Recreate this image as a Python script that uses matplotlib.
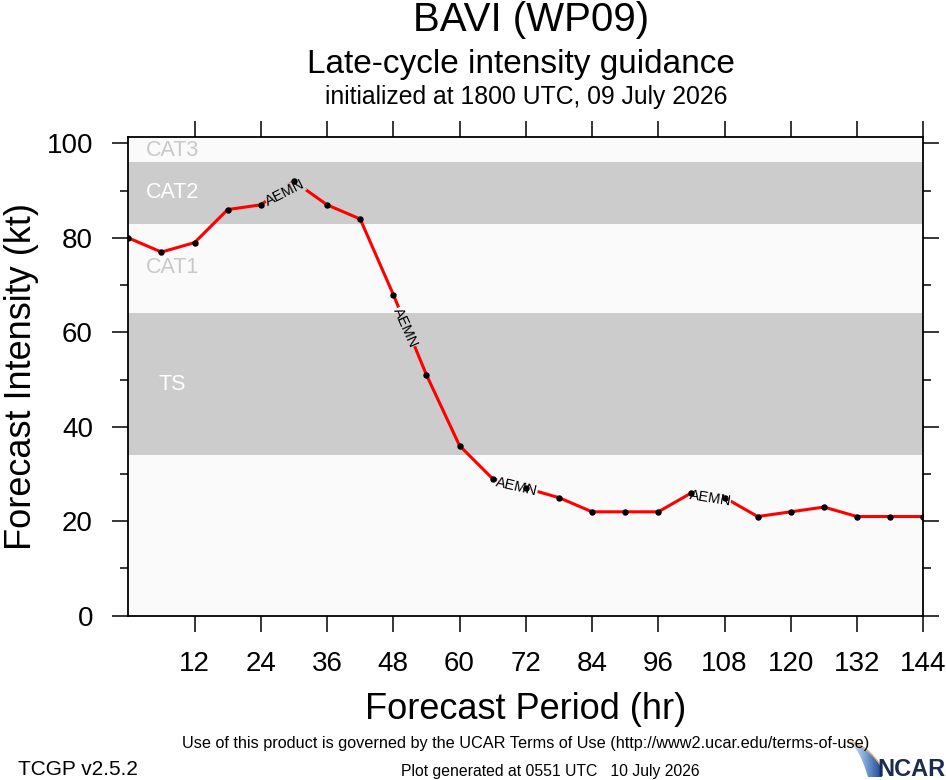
import numpy as np
import matplotlib
matplotlib.use("Agg")
import matplotlib.pyplot as plt
from matplotlib.ticker import MultipleLocator
from matplotlib.patches import Polygon
from matplotlib.path import Path
from matplotlib.transforms import IdentityTransform
from matplotlib.colors import LinearSegmentedColormap

# forecast hours and AEMN intensity (kt)
hours = [0, 6, 12, 18, 24, 30, 36, 42, 48, 54, 60, 66, 72,
         78, 84, 90, 96, 102, 108, 114, 120, 126, 132, 138, 144]
aemn = [80, 77, 79, 86, 87, 92, 87, 84, 68, 51, 36, 29, 27,
        25, 22, 22, 22, 26, 25, 21, 22, 23, 21, 21, 21]

# intensity category bands (kt)
band_names = ["", "TS", "CAT1", "CAT2", "CAT3"]
band_lower = [0, 34, 64, 83, 96]
band_upper = [34, 64, 83, 96, 101.3]
band_label_y = [None, 49, 73.8, 89.7, 98.6]

# where the model name sits along the line
label_hours = [28.4, 50.1, 70.4, 105.4]
label_vals = [89.5, 61.0, 27.2, 24.9]
label_rot = [27, -66, -13, -9]

xticks = list(range(12, 145, 12))
yticks = list(range(0, 101, 20))

plt.rcParams["font.family"] = ["Liberation Sans", "DejaVu Sans"]

W, H = 946, 780
fig = plt.figure(figsize=(W / 100, H / 100), dpi=100)
ax = fig.add_axes([128.3 / W, 1 - 615.7 / H, 795 / W, 478.4 / H])

light = "#fafafa"
gray = "#cccccc"
for i in range(len(band_names)):
    fc = gray if i % 2 == 1 else light
    ax.axhspan(band_lower[i], band_upper[i], color=fc, lw=0, zorder=0)
    if band_names[i]:
        tc = "white" if fc == gray else "#c8c8c8"
        ax.text(8, band_label_y[i], band_names[i], color=tc, fontsize=15.5,
                ha="center", va="center", zorder=1)

ax.set_xlim(0, 144)
ax.set_ylim(0, 101.3)

# clip the line so it breaks where the labels sit
verts = [(0, 0), (W, 0), (W, H), (0, H), (0, 0)]
codes = [Path.MOVETO, Path.LINETO, Path.LINETO, Path.LINETO, Path.CLOSEPOLY]
gap_w, gap_h = 21, 7
for hx, vy, rot in zip(label_hours, label_vals, label_rot):
    cx, cy = ax.transData.transform((hx, vy))
    a = np.deg2rad(rot)
    u = np.array([np.cos(a), np.sin(a)])
    v = np.array([-np.sin(a), np.cos(a)])
    c = np.array([cx, cy])
    corners = [c - gap_w * u - gap_h * v, c - gap_w * u + gap_h * v,
               c + gap_w * u + gap_h * v, c + gap_w * u - gap_h * v]
    verts += [tuple(p) for p in corners] + [tuple(corners[0])]
    codes += [Path.MOVETO, Path.LINETO, Path.LINETO, Path.LINETO, Path.CLOSEPOLY]
clip = Path(verts, codes)

line, = ax.plot(hours, aemn, color="red", lw=2.2, zorder=2)
line.set_clip_path(clip, IdentityTransform())
ax.plot(hours, aemn, ls="none", marker="o", ms=3.6, color="black", zorder=5)

for hx, vy, rot in zip(label_hours, label_vals, label_rot):
    ax.text(hx, vy, "AEMN", fontsize=10.5, rotation=rot, rotation_mode="anchor",
            ha="center", va="center", zorder=4)

ax.set_xticks(xticks)
ax.set_yticks(yticks)
ax.yaxis.set_minor_locator(MultipleLocator(10))
ax.tick_params(which="both", direction="out", top=True, right=True,
               labeltop=False, labelright=False, width=1.1, labelsize=20)
ax.tick_params(which="major", length=11.5, pad=14)
ax.tick_params(which="minor", length=5.8)
for s in ax.spines.values():
    s.set_linewidth(1.3)

ax.set_xlabel("Forecast Period (hr)", fontsize=26, labelpad=11)
ax.set_ylabel("Forecast Intensity (kt)", fontsize=26, labelpad=5)

fig.text(0.561, 1 - 31 / H, "BAVI (WP09)", fontsize=29, ha="center", va="baseline")
fig.text(0.551, 1 - 73 / H, "Late-cycle intensity guidance", fontsize=24,
         ha="center", va="baseline")
fig.text(0.556, 1 - 104 / H, "initialized at 1800 UTC, 09 July 2026", fontsize=17.8,
         ha="center", va="baseline")

narrow = ["Liberation Sans Narrow", "Liberation Sans", "DejaVu Sans"]
fig.text(526 / W, 1 - 748 / H,
         "Use of this product is governed by the UCAR Terms of Use "
         "(http://www2.ucar.edu/terms-of-use)",
         fontsize=11.7, family=narrow, ha="center", va="baseline")
fig.text(18 / W, 1 - 775 / H, "TCGP v2.5.2", fontsize=15, family=narrow,
         ha="left", va="baseline")
fig.text(550 / W, 1 - 776 / H, "Plot generated at 0551 UTC   10 July 2026",
         fontsize=11.3, family=narrow, ha="center", va="baseline")

# NCAR logo: blue swoosh plus lettering
lax = fig.add_axes([846 / W, 0, 100 / W, 40 / H])
lax.set_xlim(0, 100)
lax.set_ylim(0, 40)
lax.axis("off")
t = np.linspace(0, 1, 30)
top_x = 2 + 34 * t
top_y = 37 - 25 * t ** 2
bot_x = 2 + 20 * t[::-1]
bot_y = 36 - 33 * t[::-1] ** 2
shape = np.column_stack([np.r_[top_x, 36, bot_x], np.r_[top_y, 3, bot_y]])
swoosh = Polygon(shape, closed=True, fc="none", ec="none")
lax.add_patch(swoosh)
blues = LinearSegmentedColormap.from_list("ncar", ["#f2f6fc", "#7fa6d8", "#1c4595"])
grad = np.linspace(0, 1, 64).reshape(1, -1)
img = lax.imshow(grad, extent=[2, 36, 3, 38], cmap=blues, aspect="auto",
                 origin="lower")
img.set_clip_path(swoosh)
lax.plot(top_x, top_y + 0.8, color="#f0a050", lw=0.8)
lax.text(99, 4, "NCAR", fontsize=17, family=narrow, weight="bold",
         color="#1b2c50", ha="right", va="baseline")

fig.savefig("out.png", dpi=100)
